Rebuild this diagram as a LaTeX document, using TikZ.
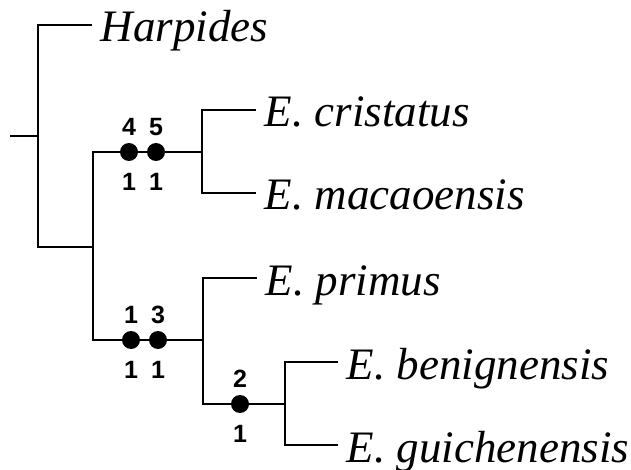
\documentclass[tikz,border=0pt]{standalone}
\usepackage{fontspec}
\setmainfont{Liberation Serif}
\newfontfamily\charfont{Liberation Sans}

\begin{document}
\begin{tikzpicture}[x=1pt,y=-1pt,line width=1.8pt,
    taxon/.style={anchor=west,inner xsep=8pt,inner ysep=0pt,text height=34pt,text depth=0pt,
      font=\fontsize{45}{50}\selectfont\itshape},
    apo/.style={circle,fill,inner sep=0pt,minimum size=18pt},
    chr/.style={inner sep=0pt,font=\fontsize{25}{25}\charfont\bfseries}]
  \useasboundingbox (0,0) rectangle (631,470);
  \coordinate (r) at (10,136);
  \coordinate (a) at (38,136);
  \coordinate (b) at (93,247);
  \coordinate (c) at (202,152);
  \coordinate (d) at (203,340);
  \coordinate (e) at (285,404);
  \node[taxon] (harp) at (92,25) {Harpides};
  \node[taxon] (cris) at (256,110) {E. cristatus};
  \node[taxon] (maca) at (256,193) {E. macaoensis};
  \node[taxon] (prim) at (257,278) {E. primus};
  \node[taxon] (beni) at (338,362) {E. benignensis};
  \node[taxon] (guic) at (338,445) {E. guichenensis};
  \draw (r) -- (a);
  \draw (harp.west) -| (a) |- (b);
  \draw (b) |- (c);
  \draw (b) |- (d);
  \draw (cris.west) -| (c) |- (maca.west);
  \draw (prim.west) -| (d) |- (e);
  \draw (beni.west) -| (e) |- (guic.west);
  \node[apo] (ch4) at (129,152) {};
  \node[apo] (ch5) at (156,152) {};
  \node[apo] (ch1) at (131,340) {};
  \node[apo] (ch3) at (158,340) {};
  \node[apo] (ch2) at (240,404) {};
  \node[chr] (c4) at ([yshift=25pt]ch4) {4};
  \node[chr] (s4) at ([yshift=-30pt]ch4) {1};
  \node[chr] (c5) at ([yshift=25pt]ch5) {5};
  \node[chr] (s5) at ([yshift=-30pt]ch5) {1};
  \node[chr] (c1) at ([yshift=25pt]ch1) {1};
  \node[chr] (s1) at ([yshift=-30pt]ch1) {1};
  \node[chr] (c3) at ([yshift=25pt]ch3) {3};
  \node[chr] (s3) at ([yshift=-30pt]ch3) {1};
  \node[chr] (c2) at ([yshift=25pt]ch2) {2};
  \node[chr] (s2) at ([yshift=-30pt]ch2) {1};
\end{tikzpicture}
\end{document}
